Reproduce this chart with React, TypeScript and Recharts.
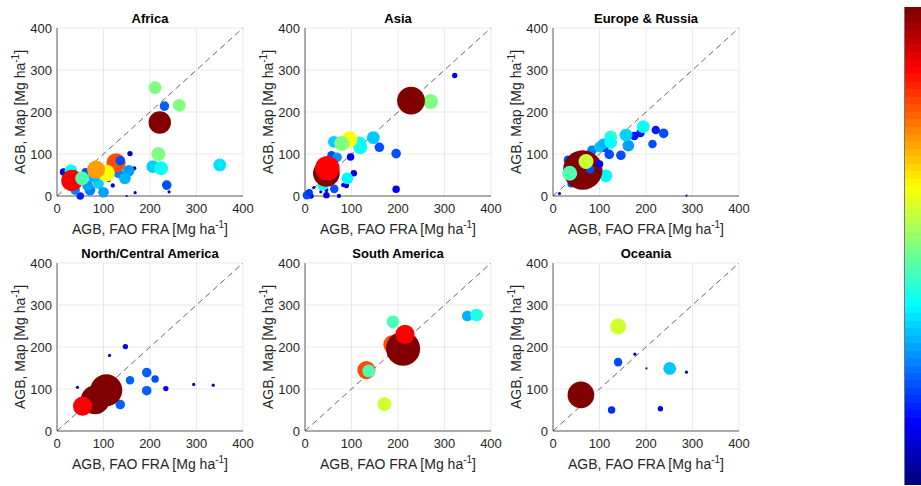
import React from "react";
import { CartesianGrid, Cell, ReferenceLine, Scatter, ScatterChart, XAxis, YAxis, ZAxis } from "recharts";

// x = AGB FAO FRA, y = AGB map, w = bubble weight (area), c = colour value (0..1, jet)
type Pt = { x: number; y: number; w: number; c: number };

const ticks = [0, 100, 200, 300, 400];

const africa: Pt[] = [
  { x: 14, y: 57, w: 49, c: 0.08 },
  { x: 157, y: 101, w: 25, c: 0.08 },
  { x: 166, y: 66, w: 16, c: 0.08 },
  { x: 168, y: 8, w: 9, c: 0.05 },
  { x: 150, y: 0, w: 4, c: 0.05 },
  { x: 241, y: 10, w: 9, c: 0.05 },
  { x: 120, y: 25, w: 16, c: 0.06 },
  { x: 111, y: 38, w: 16, c: 0.06 },
  { x: 93, y: 18, w: 9, c: 0.06 },
  { x: 50, y: 0, w: 49, c: 0.15 },
  { x: 61, y: 58, w: 49, c: 0.2 },
  { x: 236, y: 26, w: 81, c: 0.2 },
  { x: 231, y: 214, w: 81, c: 0.22 },
  { x: 39, y: 14, w: 81, c: 0.25 },
  { x: 71, y: 14, w: 100, c: 0.25 },
  { x: 100, y: 9, w: 100, c: 0.28 },
  { x: 66, y: 25, w: 100, c: 0.28 },
  { x: 89, y: 30, w: 100, c: 0.33 },
  { x: 79, y: 46, w: 121, c: 0.3 },
  { x: 132, y: 54, w: 81, c: 0.25 },
  { x: 154, y: 60, w: 121, c: 0.28 },
  { x: 146, y: 42, w: 121, c: 0.3 },
  { x: 30, y: 60, w: 144, c: 0.38 },
  { x: 206, y: 70, w: 144, c: 0.33 },
  { x: 224, y: 66, w: 169, c: 0.38 },
  { x: 350, y: 74, w: 144, c: 0.35 },
  { x: 211, y: 258, w: 144, c: 0.5 },
  { x: 263, y: 216, w: 144, c: 0.5 },
  { x: 229, y: 171, w: 144, c: 0.5 },
  { x: 218, y: 100, w: 169, c: 0.5 },
  { x: 127, y: 79, w: 324, c: 0.8 },
  { x: 136, y: 84, w: 81, c: 0.2 },
  { x: 106, y: 54, w: 256, c: 0.62 },
  { x: 84, y: 63, w: 289, c: 0.72 },
  { x: 32, y: 37, w: 400, c: 0.88 },
  { x: 54, y: 42, w: 169, c: 0.45 },
  { x: 221, y: 175, w: 441, c: 1 },
];

const asia: Pt[] = [
  { x: 322, y: 287, w: 25, c: 0.1 },
  { x: 196, y: 16, w: 49, c: 0.12 },
  { x: 98, y: 93, w: 49, c: 0.12 },
  { x: 105, y: 54, w: 36, c: 0.1 },
  { x: 89, y: 25, w: 25, c: 0.1 },
  { x: 82, y: 26, w: 16, c: 0.08 },
  { x: 46, y: 14, w: 16, c: 0.08 },
  { x: 46, y: 2, w: 36, c: 0.1 },
  { x: 73, y: 0, w: 16, c: 0.08 },
  { x: 13, y: 0, w: 25, c: 0.1 },
  { x: 19, y: 20, w: 9, c: 0.06 },
  { x: 34, y: 10, w: 9, c: 0.06 },
  { x: 4, y: 2, w: 64, c: 0.2 },
  { x: 9, y: 8, w: 49, c: 0.18 },
  { x: 63, y: 17, w: 64, c: 0.2 },
  { x: 160, y: 116, w: 81, c: 0.2 },
  { x: 196, y: 101, w: 81, c: 0.2 },
  { x: 57, y: 97, w: 64, c: 0.2 },
  { x: 69, y: 92, w: 81, c: 0.27 },
  { x: 147, y: 139, w: 144, c: 0.32 },
  { x: 62, y: 129, w: 121, c: 0.33 },
  { x: 38, y: 25, w: 100, c: 0.38 },
  { x: 91, y: 42, w: 121, c: 0.37 },
  { x: 117, y: 125, w: 169, c: 0.38 },
  { x: 119, y: 116, w: 169, c: 0.38 },
  { x: 96, y: 135, w: 225, c: 0.62 },
  { x: 79, y: 125, w: 196, c: 0.5 },
  { x: 270, y: 225, w: 196, c: 0.5 },
  { x: 46, y: 54, w: 625, c: 1 },
  { x: 48, y: 66, w: 529, c: 0.88 },
  { x: 228, y: 227, w: 676, c: 1 },
];

const europe: Pt[] = [
  { x: 14, y: 6, w: 9, c: 0.06 },
  { x: 287, y: 1, w: 4, c: 0.06 },
  { x: 117, y: 145, w: 9, c: 0.06 },
  { x: 201, y: 159, w: 9, c: 0.06 },
  { x: 32, y: 86, w: 64, c: 0.2 },
  { x: 39, y: 29, w: 49, c: 0.2 },
  { x: 84, y: 109, w: 81, c: 0.25 },
  { x: 110, y: 116, w: 81, c: 0.18 },
  { x: 121, y: 99, w: 81, c: 0.2 },
  { x: 146, y: 97, w: 81, c: 0.2 },
  { x: 175, y: 143, w: 64, c: 0.15 },
  { x: 188, y: 150, w: 64, c: 0.15 },
  { x: 221, y: 157, w: 64, c: 0.15 },
  { x: 238, y: 149, w: 81, c: 0.2 },
  { x: 214, y: 124, w: 64, c: 0.2 },
  { x: 162, y: 120, w: 121, c: 0.28 },
  { x: 157, y: 145, w: 144, c: 0.33 },
  { x: 194, y: 165, w: 144, c: 0.38 },
  { x: 100, y: 117, w: 100, c: 0.32 },
  { x: 124, y: 141, w: 144, c: 0.42 },
  { x: 108, y: 124, w: 100, c: 0.3 },
  { x: 124, y: 128, w: 144, c: 0.38 },
  { x: 114, y: 48, w: 144, c: 0.37 },
  { x: 64, y: 62, w: 1369, c: 1 },
  { x: 80, y: 64, w: 64, c: 0.2 },
  { x: 100, y: 76, w: 49, c: 0.12 },
  { x: 36, y: 54, w: 196, c: 0.45 },
  { x: 71, y: 82, w: 196, c: 0.57 },
];

const northCentral: Pt[] = [
  { x: 147, y: 201, w: 25, c: 0.1 },
  { x: 113, y: 180, w: 9, c: 0.06 },
  { x: 44, y: 104, w: 9, c: 0.06 },
  { x: 294, y: 111, w: 9, c: 0.06 },
  { x: 336, y: 109, w: 9, c: 0.06 },
  { x: 234, y: 101, w: 25, c: 0.1 },
  { x: 193, y: 139, w: 81, c: 0.22 },
  { x: 157, y: 121, w: 64, c: 0.22 },
  { x: 211, y: 124, w: 49, c: 0.2 },
  { x: 193, y: 96, w: 81, c: 0.22 },
  { x: 136, y: 63, w: 81, c: 0.22 },
  { x: 82, y: 74, w: 729, c: 1 },
  { x: 106, y: 97, w: 900, c: 1 },
  { x: 55, y: 59, w: 324, c: 0.88 },
];

const southAmerica: Pt[] = [
  { x: 349, y: 274, w: 100, c: 0.3 },
  { x: 369, y: 276, w: 144, c: 0.4 },
  { x: 189, y: 260, w: 144, c: 0.45 },
  { x: 171, y: 64, w: 169, c: 0.58 },
  { x: 132, y: 145, w: 289, c: 0.8 },
  { x: 137, y: 143, w: 144, c: 0.45 },
  { x: 189, y: 206, w: 324, c: 0.8 },
  { x: 211, y: 196, w: 1024, c: 1 },
  { x: 215, y: 230, w: 324, c: 0.88 },
];

const oceania: Pt[] = [
  { x: 176, y: 183, w: 9, c: 0.06 },
  { x: 201, y: 149, w: 4, c: 0.06 },
  { x: 287, y: 140, w: 9, c: 0.06 },
  { x: 231, y: 53, w: 25, c: 0.1 },
  { x: 126, y: 50, w: 49, c: 0.17 },
  { x: 140, y: 164, w: 64, c: 0.2 },
  { x: 251, y: 149, w: 144, c: 0.32 },
  { x: 140, y: 249, w: 225, c: 0.58 },
  { x: 60, y: 86, w: 625, c: 1 },
];

function jet(v: number) {
  const f = (t: number) => Math.round(255 * Math.max(0, Math.min(1, 1.5 - Math.abs(4 * v - t))));
  return `rgb(${f(3)},${f(2)},${f(1)})`;
}

const font = "'Liberation Sans', Arial, sans-serif";
const ink = "#262626";

function Panel({ title, data, left, top }: { title: string; data: Pt[]; left: number; top: number }) {
  return (
    <div style={{ position: "absolute", left, top, width: 260, height: 235 }}>
      <ScatterChart width={260} height={235} margin={{ top: 28, right: 17, bottom: 9, left: 17 }}>
        <CartesianGrid stroke="#e3e3e3" strokeWidth={0.8} />
        <XAxis
          type="number"
          dataKey="x"
          domain={[0, 400]}
          ticks={ticks}
          height={30}
          tickLine={false}
          axisLine={{ stroke: ink, strokeWidth: 0.7 }}
          tick={{ fill: ink, fontSize: 13, fontFamily: font }}
        />
        <YAxis
          type="number"
          dataKey="y"
          domain={[0, 400]}
          ticks={ticks}
          width={40}
          tickLine={false}
          tickSize={3}
          axisLine={{ stroke: ink, strokeWidth: 0.7 }}
          tick={{ fill: ink, fontSize: 13, fontFamily: font }}
        />
        <ZAxis type="number" dataKey="w" domain={[0, 1400]} range={[0, 1250]} />
        <ReferenceLine
          segment={[{ x: 0, y: 0 }, { x: 400, y: 400 }]}
          stroke={ink}
          strokeWidth={0.7}
          strokeDasharray="6 4"
        />
        <Scatter data={data} shape="circle" isAnimationActive={false}>
          {data.map((d, i) => (
            <Cell key={i} fill={jet(d.c)} />
          ))}
        </Scatter>
      </ScatterChart>
      <div style={{ position: "absolute", left: 57, width: 186, top: 11, textAlign: "center", fontFamily: font, fontWeight: "bold", fontSize: 13, color: "#000", lineHeight: "16px" }}>
        {title}
      </div>
      <div style={{ position: "absolute", left: 30, width: 240, top: 220, textAlign: "center", fontFamily: font, fontSize: 14, color: ink, lineHeight: "18px", whiteSpace: "nowrap" }}>
        AGB, FAO FRA [Mg ha<sup style={{ fontSize: 10, lineHeight: 0 }}>-1</sup>]
      </div>
      <div style={{ position: "absolute", left: 20 - 100, width: 200, top: 112 - 9, textAlign: "center", fontFamily: font, fontSize: 14, color: ink, lineHeight: "18px", whiteSpace: "nowrap", transform: "rotate(-90deg)" }}>
        AGB, Map [Mg ha<sup style={{ fontSize: 10, lineHeight: 0 }}>-1</sup>]
      </div>
    </div>
  );
}

const steps = Array.from({ length: 64 }, (_, i) => 1 - i / 63);

export default function App() {
  return (
    <div style={{ position: "fixed", left: 0, top: 0, width: 921, height: 486, overflow: "hidden", background: "#fff" }}>
      <Panel title="Africa" data={africa} left={0} top={0} />
      <Panel title="Asia" data={asia} left={248} top={0} />
      <Panel title="Europe & Russia" data={europe} left={496} top={0} />
      <Panel title="North/Central America" data={northCentral} left={0} top={235} />
      <Panel title="South America" data={southAmerica} left={248} top={235} />
      <Panel title="Oceania" data={oceania} left={496} top={235} />
      <div style={{ position: "absolute", left: 904, top: 7, width: 20, height: 478, display: "flex", flexDirection: "column", borderLeft: "1px solid #777" }}>
        {steps.map((v, i) => (
          <div key={i} style={{ flex: 1, background: jet(v) }} />
        ))}
      </div>
    </div>
  );
}
